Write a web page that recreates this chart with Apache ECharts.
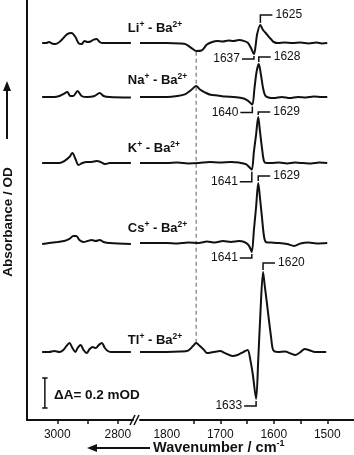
<!DOCTYPE html>
<html><head><meta charset="utf-8">
<script src="https://cdn.jsdelivr.net/npm/echarts@6/dist/echarts.min.js"></script>
<style>html,body{margin:0;padding:0;background:#fff}#c{width:354px;height:455px}</style>
</head><body><div id="c"></div>
<script>
// ---------- data (absorbance in mOD, relative to each trace's own baseline) ----------
const traceNames = ['Li', 'Na', 'K', 'Cs', 'Tl'];
const offsets = [2.513, 2.153, 1.713, 1.18, 0.453]; // vertical stacking offsets (mOD)

const liLeft = [[3050,0],[3037,0],[3027,0.007],[3017,-0.003],[3007,-0.007],[2993,0.007],[2980,0.033],[2967,0.06],[2953,0.067],[2940,0.04],[2930,0],[2920,-0.007],[2910,0.013],[2900,0.007],[2890,0.01],[2880,0.023],[2870,0.027],[2860,0.007],[2850,0],[2800,0],[2757,0]];
const naLeft = [[3050,0],[3010,0],[2993,0.007],[2980,0.02],[2967,0.033],[2957,0.007],[2947,0.007],[2933,0.04],[2920,0.007],[2900,0],[2877,0.007],[2860,0.027],[2847,0.007],[2827,0],[2757,-0.003]];
const kLeft  = [[3050,0],[2993,0],[2977,0.013],[2960,0.04],[2950,0.067],[2940,0.027],[2930,-0.013],[2917,0],[2903,0.007],[2887,0.007],[2870,0.013],[2857,0.007],[2843,-0.007],[2827,0],[2757,0]];
const csLeft = [[3050,-0.007],[3027,0],[3000,0.007],[2977,0.013],[2960,0.027],[2947,0.047],[2937,0.047],[2927,0.02],[2913,0.007],[2900,0.013],[2887,0.02],[2873,0.013],[2860,0.02],[2847,0.007],[2827,0],[2757,-0.007]];
const tlLeft = [[3050,0],[3027,0],[3010,0.007],[2993,0],[2980,0.013],[2970,0.04],[2960,0.06],[2950,0.027],[2940,0],[2933,0.027],[2923,0.047],[2913,0.013],[2903,-0.007],[2893,0.02],[2883,0.033],[2873,0.027],[2863,0.047],[2853,0.06],[2843,0.027],[2833,0.007],[2820,0],[2757,0]];

const liRight = [[1850,0],[1800,0],[1775,-0.003],[1765,-0.007],[1755,-0.03],[1745,-0.053],[1735,-0.05],[1725,-0.01],[1715,0.007],[1705,0.013],[1695,0.01],[1685,0.017],[1675,0.013],[1665,0.02],[1655,0.013],[1648,0],[1643,-0.03],[1637,-0.073],[1634,-0.02],[1631,0.06],[1625,0.12],[1620,0.087],[1615,0.067],[1610,0.045],[1605,0.025],[1600,0.007],[1592,0],[1580,0.003],[1565,0],[1550,0.003],[1535,-0.003],[1520,0.003],[1510,-0.003],[1500,0]];
const naRight = [[1850,0],[1800,0],[1780,0.007],[1765,0.02],[1755,0.045],[1745,0.073],[1738,0.05],[1728,0.03],[1718,0.015],[1705,0.01],[1690,0.003],[1675,0],[1660,-0.007],[1650,-0.02],[1645,-0.035],[1640,-0.05],[1636,0.06],[1632,0.17],[1628,0.22],[1624,0.15],[1620,0.06],[1616,0.01],[1610,-0.003],[1600,-0.007],[1585,0],[1570,-0.007],[1555,0],[1540,-0.003],[1525,0.003],[1510,0],[1500,0]];
const kRight  = [[1850,0],[1800,0],[1780,0.003],[1760,-0.003],[1740,0],[1720,0.007],[1700,0.003],[1680,0.007],[1665,0.003],[1652,-0.007],[1645,-0.03],[1641,-0.045],[1637,0.08],[1633,0.19],[1629,0.307],[1626,0.22],[1622,0.1],[1618,0.01],[1613,0],[1605,0],[1590,0.003],[1575,-0.003],[1560,0.003],[1545,0],[1530,-0.003],[1515,0.003],[1500,0]];
const csRight = [[1850,0],[1800,0],[1780,-0.003],[1760,0.003],[1740,0],[1725,0.01],[1710,0.003],[1695,0.013],[1680,0.007],[1665,0.013],[1655,0.007],[1648,-0.01],[1644,-0.035],[1641,-0.06],[1637,0.09],[1633,0.24],[1629,0.4],[1626,0.31],[1622,0.17],[1618,0.04],[1614,0.005],[1605,0.003],[1590,0],[1575,-0.007],[1562,-0.02],[1550,-0.003],[1535,0.003],[1520,-0.003],[1500,0]];
const tlRight = [[1850,0],[1800,0],[1775,0.003],[1760,0.01],[1751,0.04],[1745,0.06],[1738,0.04],[1730,0.013],[1725,-0.007],[1713,0],[1700,0.007],[1691,-0.007],[1677,-0.027],[1668,-0.02],[1657,0],[1649,0.013],[1643,-0.067],[1639,-0.153],[1633,-0.313],[1629,-0.053],[1625,0.253],[1620,0.533],[1617,0.447],[1613,0.333],[1609,0.213],[1605,0.1],[1601,0.013],[1592,0],[1579,0.003],[1568,-0.01],[1560,-0.02],[1551,-0.003],[1542,0.02],[1532,0.01],[1523,0],[1502,0]];

const leftData = [liLeft, naLeft, kLeft, csLeft, tlLeft];
const rightData = [liRight, naRight, kRight, csRight, tlRight];

const leftTicks = [3000, 2900, 2800];
const leftTickLabels = [3000, 2800];
const rightTicks = [1750, 1700, 1650, 1600, 1550, 1500];
const rightTickLabels = [1800, 1700, 1600, 1500];

// peak / trough annotations: [trace index, wavenumber, direction]
const peakMarks = [[0,1625,'up'],[0,1637,'down'],[1,1628,'up'],[1,1640,'down'],[2,1629,'up'],[2,1641,'down'],[3,1629,'up'],[3,1641,'down'],[4,1620,'up'],[4,1633,'down']];
const dashWn = 1745;          // dashed guide line position
const scaleBarValue = 0.2;    // mOD
const scaleBarWn = 3041;

// ---------- layout / style ----------
const markGaps = [10,5,7,8,5,12,7,6,9,7];
const labelLift = [15,17,15,15,12];
const FONT = "'Liberation Sans', Arial, Helvetica, sans-serif";
const INK = '#111';

function lookup(arr, wn) { const p = arr.find(q => q[0] === wn); return p ? p[1] : 0; }

const chart = echarts.init(document.getElementById('c'));
const series = [];
leftData.forEach((d, i) => series.push({
  type:'line', xAxisIndex:0, yAxisIndex:0, data:d.map(p => [p[0], p[1] + offsets[i]]),
  symbol:'none', smooth:0.3, silent:true, lineStyle:{color:INK, width:2}
}));
rightData.forEach((d, i) => series.push({
  type:'line', xAxisIndex:1, yAxisIndex:1, data:d.map(p => [p[0], p[1] + offsets[i]]),
  symbol:'none', smooth:0.3, silent:true, lineStyle:{color:INK, width:2}
}));
// dashed guide line from top trace to bottom trace at dashWn
series.push({type:'line', xAxisIndex:1, yAxisIndex:1, symbol:'none', silent:true, z:1,
  data:[[dashWn, offsets[0] + lookup(liRight, dashWn) - 0.005], [dashWn, offsets[4] + lookup(tlRight, dashWn)]],
  lineStyle:{color:'#777', width:1.2, type:[4,3]}});
// scale bar
const sbBase = 0.08;
series.push({type:'line', xAxisIndex:0, yAxisIndex:0, symbol:'none', silent:true,
  data:[[scaleBarWn, sbBase], [scaleBarWn, sbBase + scaleBarValue]], lineStyle:{color:INK, width:1.5}});
series.push({type:'line', xAxisIndex:0, yAxisIndex:0, symbol:'none', silent:true,
  data:[[scaleBarWn + 9, sbBase], [scaleBarWn - 9, sbBase]], lineStyle:{color:INK, width:1.5}});
series.push({type:'line', xAxisIndex:0, yAxisIndex:0, symbol:'none', silent:true,
  data:[[scaleBarWn + 9, sbBase + scaleBarValue], [scaleBarWn - 9, sbBase + scaleBarValue]], lineStyle:{color:INK, width:1.5}});

function xAxisCfg(grid, min, max, ticks, labels) {
  return {gridIndex:grid, type:'value', min:min, max:max, inverse:true,
    axisLine:{onZero:false, lineStyle:{color:INK, width:2}},
    axisTick:{customValues:ticks, length:4, lineStyle:{color:INK, width:1.5}},
    axisLabel:{customValues:labels, fontSize:12, fontFamily:FONT, color:INK, margin:9, formatter:v => String(v)},
    splitLine:{show:false}};
}

chart.setOption({
  animation:false,
  backgroundColor:'#fff',
  grid:[{left:27, top:0, width:106, height:420}, {left:140, top:0, width:214, height:420}],
  xAxis:[xAxisCfg(0, 2750, 3100, leftTicks, leftTickLabels), xAxisCfg(1, 1450, 1850, rightTicks, rightTickLabels)],
  yAxis:[
    {gridIndex:0, type:'value', min:0, max:2.8, axisLine:{show:true, onZero:false, lineStyle:{color:INK, width:2}}, axisTick:{show:false}, axisLabel:{show:false}, splitLine:{show:false}},
    {gridIndex:1, type:'value', min:0, max:2.8, show:false, splitLine:{show:false}}
  ],
  series:series
});

// ---------- annotations ----------
function txt(x, y, text, align, font, extra) {
  return Object.assign({type:'text', x:x, y:y, silent:true, z:100,
    style:{text:text, font:font, fill:INK, align:align, textAlign:align, verticalAlign:'middle', textVerticalAlign:'middle'}}, extra || {});
}
const g = [];
peakMarks.forEach(([ti, wn, dir], k) => {
  const v = lookup(rightData[ti], wn) + offsets[ti];
  const [px, py] = chart.convertToPixel({gridIndex:1}, [wn, v]);
  const gap = markGaps[k];
  if (dir === 'up') {
    const by = py - gap;
    g.push({type:'polyline', silent:true, z:100, shape:{points:[[px, py - 2], [px, by], [px + 12, by]]}, style:{stroke:INK, lineWidth:1.5, fill:null}});
    g.push(txt(px + 15, by, String(wn), 'left', '12px ' + FONT));
  } else {
    const by = py + gap;
    g.push({type:'polyline', silent:true, z:100, shape:{points:[[px, py + 2], [px, by], [px - 12, by]]}, style:{stroke:INK, lineWidth:1.5, fill:null}});
    g.push(txt(px - 14, by, String(wn), 'right', '12px ' + FONT));
  }
});
const richLab = {
  b:{fontSize:13, fontWeight:'bold', fontFamily:FONT, fill:INK, color:INK, lineHeight:16},
  s:{fontSize:8.5, fontWeight:'bold', fontFamily:FONT, fill:INK, color:INK, lineHeight:8, verticalAlign:'top'}
};
traceNames.forEach((n, i) => {
  const [px, py] = chart.convertToPixel({gridIndex:0}, [2767, offsets[i]]);
  g.push({type:'text', x:px, y:py - labelLift[i], silent:true, z:100,
    style:{text:'{b|' + n + '}{s|+}{b| - Ba}{s|2+}', rich:richLab, align:'left', textAlign:'left', verticalAlign:'middle', textVerticalAlign:'middle'}});
});
// scale bar label
g.push(txt(54, 395, 'ΔA= 0.2 mOD', 'left', 'bold 13.5px ' + FONT));
// y axis title + arrow
g.push({type:'line', silent:true, shape:{x1:7, y1:139, x2:7, y2:90}, style:{stroke:INK, lineWidth:2}});
g.push({type:'polygon', silent:true, shape:{points:[[7, 81], [3, 91], [11, 91]]}, style:{fill:INK}});
g.push(txt(8, 222, 'Absorbance / OD', 'center', 'bold 13.5px ' + FONT, {rotation:Math.PI / 2}));
// x axis title + arrow
g.push({type:'line', silent:true, shape:{x1:150, y1:448, x2:96, y2:448}, style:{stroke:INK, lineWidth:2}});
g.push({type:'polygon', silent:true, shape:{points:[[87, 448], [97, 444], [97, 452]]}, style:{fill:INK}});
g.push({type:'text', x:153, y:448, silent:true,
  style:{text:'{b|Wavenumber / cm}{s|-1}', align:'left', textAlign:'left', verticalAlign:'middle', textVerticalAlign:'middle',
    rich:{b:{fontSize:14.5, fontWeight:'bold', fontFamily:FONT, fill:INK, color:INK, lineHeight:17},
          s:{fontSize:9, fontWeight:'bold', fontFamily:FONT, fill:INK, color:INK, lineHeight:9, verticalAlign:'top'}}}});
// axis break marks
g.push({type:'line', silent:true, shape:{x1:130, y1:425, x2:135, y2:415}, style:{stroke:INK, lineWidth:1.5}});
g.push({type:'line', silent:true, shape:{x1:134, y1:425, x2:139, y2:415}, style:{stroke:INK, lineWidth:1.5}});

chart.setOption({graphic:{elements:g}});
</script>
</body></html>
